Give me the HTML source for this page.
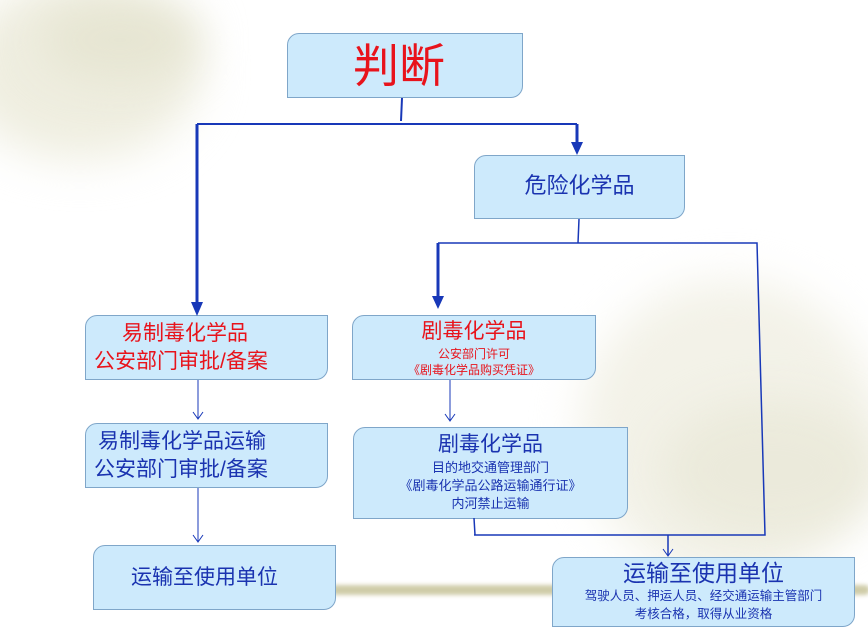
<!DOCTYPE html>
<html><head><meta charset="utf-8"><style>
body{margin:0;width:868px;height:621px;overflow:hidden;position:relative;background:#fff;font-family:"Liberation Sans","Noto Sans CJK SC",sans-serif;}
.bg{position:absolute;border-radius:50%;filter:blur(22px);}
.b{position:absolute;box-sizing:border-box;background:#cdeafc;border:1px solid #7fa6c9;border-radius:12px 0 12px 0;text-align:center;color:#1a33b0;}
.r{color:#e8131b}
svg{position:absolute;left:0;top:0}
</style></head><body>
<div class="bg" style="left:-40px;top:-20px;width:240px;height:180px;background:#efeee0"></div>
<div class="bg" style="left:40px;top:0;width:160px;height:80px;background:#e6e5d2"></div>
<div class="bg" style="left:580px;top:280px;width:300px;height:300px;background:#f3f2e8"></div>
<div class="bg" style="left:660px;top:400px;width:220px;height:140px;background:#ebeadb"></div>
<div style="position:absolute;left:330px;top:585px;width:540px;height:10px;background:#cfcca8;border-radius:6px;filter:blur(2px)"></div>

<div class="b" style="left:287px;top:33px;width:236px;height:65px;font-size:46px;line-height:64px;padding-right:12px;"><span class="r">判断</span></div>
<div class="b" style="left:474px;top:155px;width:211px;height:64px;font-size:22px;line-height:60px;">危险化学品</div>
<div class="b r" style="left:85px;top:315px;width:243px;height:65px;font-size:21px;line-height:28px;padding-top:4px;text-align:left;padding-left:8px;"><span style="padding-left:28px">易制毒化学品</span><br>公安部门审批/备案</div>
<div class="b" style="left:352px;top:315px;width:244px;height:65px;padding-top:2px;"><div class="r" style="font-size:21px;line-height:28px">剧毒化学品</div><div class="r" style="font-size:12px;line-height:16px">公安部门许可<br>《剧毒化学品购买凭证》</div></div>
<div class="b" style="left:85px;top:423px;width:243px;height:65px;font-size:21px;line-height:28px;padding-top:4px;text-align:left;padding-left:8px;"><span style="padding-left:4px">易制毒化学品运输</span><br>公安部门审批/备案</div>
<div class="b" style="left:353px;top:427px;width:275px;height:92px;padding-top:3px;"><div style="font-size:21px;line-height:28px">剧毒化学品</div><div style="font-size:13px;line-height:18px">目的地交通管理部门<br>《剧毒化学品公路运输通行证》<br>内河禁止运输</div></div>
<div class="b" style="left:93px;top:545px;width:243px;height:65px;font-size:21px;line-height:64px;padding-right:20px;">运输至使用单位</div>
<div class="b" style="left:552px;top:557px;width:303px;height:70px;padding-top:1px;"><div style="font-size:23px;line-height:28px">运输至使用单位</div><div style="font-size:12.5px;line-height:18px">驾驶人员、押运人员、经交通运输主管部门<br>考核合格，取得从业资格</div></div>

<svg width="868" height="621">
<g stroke="#1838b8" fill="none">
<path d="M402 98L401 121M197 124H577" stroke-width="2"/>
<path d="M197 124V308M577 124V148M438 243V303" stroke-width="3"/>
<path d="M579 219L578 243M438 243H757L765 535H474M474 518L475 535M668 535V555" stroke-width="1.5"/>
<path d="M198 380V418M450 380V420M198 488V541" stroke-width="1"/>
<path d="M193 412L198 419L203 412M445 414L450 421L455 414M193 535L198 542L203 535M663 549L668 556L673 549" stroke-width="1"/>
</g>
<g fill="#1838b8">
<path d="M191 302L197 316L203 302Z"/><path d="M571 142L577 155L583 142Z"/><path d="M432 296L438 309L444 296Z"/>
</g>
</svg>
</body></html>
